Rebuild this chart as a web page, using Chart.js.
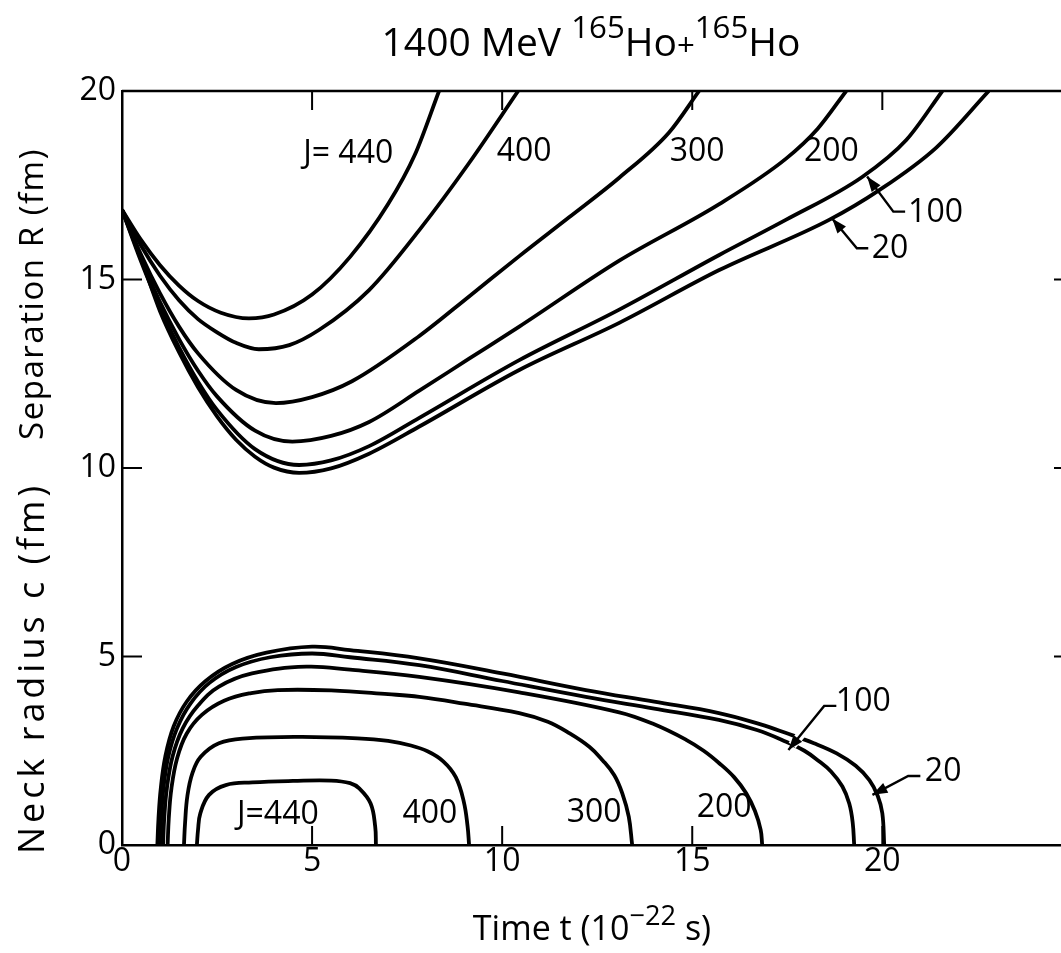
<!DOCTYPE html>
<html>
<head>
<meta charset="utf-8">
<script src="https://cdn.jsdelivr.net/npm/chart.js@4"></script>
<style>
  html, body { margin: 0; padding: 0; background: #fff; }
  #wrap { width: 1061px; height: 953px; }
</style>
</head>
<body>
<div id="wrap"><canvas id="hoChart" width="1061" height="953"></canvas></div>
<script>
// Tick labels
const timeTicks = [0, 5, 10, 15, 20];
const valueTicks = [0, 5, 10, 15, 20];

// Separation R(t) for each angular momentum J (time in 10^-22 s, R in fm)
const sepT440 = [0, 0.5, 1, 1.5, 2, 2.6, 3.34, 4, 5, 6, 7, 7.7, 8.34];
const sepR440 = [16.85, 16.05, 15.38, 14.84, 14.43, 14.12, 13.97, 14.07, 14.6, 15.6, 17.0, 18.3, 20];
const sepT400 = [0, 0.5, 1, 1.5, 2, 2.5, 3, 3.6, 4.4, 5.18, 6.5, 7.82, 9.13, 10.42];
const sepR400 = [16.85, 15.9, 15.1, 14.45, 13.95, 13.6, 13.32, 13.15, 13.26, 13.66, 14.72, 16.31, 18.09, 20];
const sepT300 = [0, 0.5, 1, 1.5, 2, 3, 4.05, 5, 6.05, 7.82, 9.13, 10.45, 11.76, 13.08, 14.39, 15.18];
const sepR300 = [16.85, 15.66, 14.63, 13.75, 13.04, 12.07, 11.72, 11.88, 12.3, 13.5, 14.55, 15.62, 16.65, 17.7, 18.9, 20];
const sepT200 = [0, 0.5, 1, 1.5, 2, 2.5, 3.5, 4.48, 5.5, 6.5, 7.82, 9.13, 10.45, 13.08, 15.71, 17.46, 18.3, 19.05];
const sepR200 = [16.85, 15.55, 14.4, 13.42, 12.58, 11.9, 10.99, 10.7, 10.85, 11.22, 12.05, 12.9, 13.75, 15.5, 17.0, 18.2, 19.0, 20];
const sepT100 = [0, 0.5, 1, 1.5, 2, 2.5, 3.5, 4.66, 5.5, 6.5, 7.82, 10.45, 13.08, 15.71, 17.46, 19.47, 20.63, 21.58];
const sepR100 = [16.85, 15.48, 14.26, 13.2, 12.29, 11.54, 10.5, 10.08, 10.2, 10.58, 11.33, 12.86, 14.2, 15.65, 16.58, 17.72, 18.7, 20];
const sepT20 = [0, 0.5, 1, 1.5, 2, 2.5, 3, 3.5, 4, 4.66, 5.5, 6.5, 7.82, 10.45, 13.08, 15.71, 18.6, 19.92, 21.42, 22.8];
const sepR20 = [16.85, 15.56, 14.16, 13.07, 12.14, 11.37, 10.75, 10.3, 10.01, 9.87, 9.99, 10.38, 11.1, 12.6, 13.85, 15.25, 16.58, 17.37, 18.5, 20];

// Neck radius c(t) for each J (fm)
const neckT440 = [1.97, 2.0, 2.06, 2.29, 2.73, 3.43, 4.5, 5.5, 6.0, 6.24, 6.54, 6.66, 6.68];
const neckC440 = [0, 0.4, 0.84, 1.33, 1.59, 1.66, 1.7, 1.71, 1.64, 1.5, 1.1, 0.49, 0];
const neckT400 = [1.63, 1.66, 1.72, 1.85, 2.07, 2.55, 3.26, 4.74, 6.2, 7.0, 7.6, 8.05, 8.45, 8.78, 8.99, 9.09, 9.13];
const neckC400 = [0, 0.6, 1.3, 1.9, 2.34, 2.7, 2.83, 2.87, 2.83, 2.76, 2.64, 2.48, 2.22, 1.8, 1.15, 0.5, 0];
const neckT300 = [1.2, 1.23, 1.3, 1.45, 1.7, 2.1, 2.7, 3.4, 4.1, 5.5, 7.0, 7.82, 9.0, 10.45, 11.2, 11.76, 12.3, 12.64, 12.95, 13.16, 13.33, 13.42];
const neckC300 = [0, 0.7, 1.5, 2.3, 2.95, 3.45, 3.83, 4.03, 4.11, 4.1, 4.0, 3.93, 3.75, 3.5, 3.27, 2.97, 2.6, 2.25, 1.85, 1.37, 0.75, 0];
const neckT200 = [1.08, 1.11, 1.18, 1.33, 1.6, 2.0, 2.55, 3.42, 4.85, 6.0, 7.82, 10.45, 13.08, 14.0, 14.84, 15.3, 15.71, 16.1, 16.42, 16.65, 16.8, 16.84];
const neckC200 = [0, 0.7, 1.5, 2.35, 3.1, 3.7, 4.2, 4.55, 4.73, 4.65, 4.46, 4.05, 3.52, 3.2, 2.79, 2.5, 2.17, 1.8, 1.37, 0.9, 0.4, 0];
const neckT100 = [1.0, 1.03, 1.09, 1.22, 1.45, 1.8, 2.3, 3.0, 3.9, 5.0, 6.0, 7.82, 10.0, 12.2, 14.0, 15.7, 16.7, 17.47, 17.95, 18.3, 18.65, 18.95, 19.13, 19.22, 19.26];
const neckC100 = [0, 0.7, 1.5, 2.35, 3.1, 3.75, 4.3, 4.72, 4.98, 5.08, 4.98, 4.77, 4.35, 3.93, 3.62, 3.32, 3.05, 2.74, 2.5, 2.25, 1.95, 1.55, 1.1, 0.6, 0];
const neckT20 = [0.93, 0.96, 1.02, 1.14, 1.36, 1.7, 2.2, 2.9, 3.8, 5.0, 6.0, 7.82, 10.0, 12.2, 14.0, 15.7, 16.8, 17.47, 18.2, 18.8, 19.3, 19.66, 19.88, 20.0, 20.05];
const neckC20 = [0, 0.7, 1.5, 2.35, 3.15, 3.8, 4.35, 4.8, 5.1, 5.26, 5.17, 4.95, 4.55, 4.11, 3.8, 3.5, 3.2, 2.97, 2.7, 2.43, 2.1, 1.72, 1.3, 0.84, 0];

const FONT = "'Open Sans', 'DejaVu Sans', sans-serif";

// curve labels, placed in data units
const curveLabels = [
    { text: "J= 440", x: 5.95, y: 18.33 },
    { text: "400", x: 10.58, y: 18.38 },
    { text: "300", x: 15.13, y: 18.38 },
    { text: "200", x: 18.66, y: 18.38 },
    { text: "J=440", x: 4.1, y: 0.8 },
    { text: "400", x: 8.1, y: 0.82 },
    { text: "300", x: 12.42, y: 0.85 },
    { text: "200", x: 15.84, y: 0.98 }
];

// labels with leader arrows: text pos, end of leader, elbow, arrow head
const arrowLabels = [
    { text: "100", x: 21.4, y: 16.76, end: [20.6, 16.8], elbow: [20.29, 16.8], head: [19.6, 17.73] },
    { text: "20", x: 20.2, y: 15.8, end: [19.63, 15.83], elbow: [19.33, 15.83], head: [18.68, 16.62] },
    { text: "100", x: 19.5, y: 3.79, end: [18.79, 3.69], elbow: [18.47, 3.69], head: [17.53, 2.52], gap: true },
    { text: "20", x: 21.6, y: 1.94, end: [21.0, 1.83], elbow: [20.68, 1.83], head: [19.74, 1.33] }
];

function toPoints(ts, vs) {
    return ts.map((t, i) => ({ x: t, y: vs[i] }));
}

// separation curves: monotone cubic; neck curves: bezier tension (steep ends)
function curve(ts, vs, smooth) {
    const ds = {
        data: toPoints(ts, vs),
        borderColor: "#000",
        borderWidth: 3.8,
        pointRadius: 0,
        fill: false
    };
    if (smooth === "monotone") ds.cubicInterpolationMode = "monotone";
    else ds.tension = 0.4;
    return ds;
}

// draw text with superscript parts, centred on cx
function drawRich(ctx, parts, cx, baseline, size) {
    let total = 0;
    parts.forEach(p => {
        ctx.font = `${p.sup || p.small ? size * 0.8 : size}px ${FONT}`;
        total += ctx.measureText(p.t).width;
    });
    let x = cx - total / 2;
    ctx.textAlign = "left";
    ctx.textBaseline = "alphabetic";
    parts.forEach(p => {
        ctx.font = `${p.sup || p.small ? size * 0.8 : size}px ${FONT}`;
        const yOff = p.sup ? -size * 0.45 : 0;
        ctx.fillText(p.t, x, baseline + yOff);
        x += ctx.measureText(p.t).width;
    });
}

const decorPlugin = {
    id: "decor",
    afterDraw(chart) {
        const ctx = chart.ctx;
        const xs = chart.scales.x, ys = chart.scales.y;
        const a = chart.chartArea;
        ctx.save();
        ctx.strokeStyle = "#000";
        ctx.fillStyle = "#000";

        // top frame line
        ctx.lineWidth = 2.5;
        ctx.beginPath();
        ctx.moveTo(a.left, a.top);
        ctx.lineTo(a.right, a.top);
        ctx.stroke();

        // inward ticks
        ctx.lineWidth = 2;
        ctx.beginPath();
        timeTicks.slice(1).forEach(v => {
            const px = xs.getPixelForValue(v);
            ctx.moveTo(px, a.bottom); ctx.lineTo(px, a.bottom - 19);
            ctx.moveTo(px, a.top); ctx.lineTo(px, a.top + 19);
        });
        valueTicks.slice(1, -1).forEach(v => {
            const py = ys.getPixelForValue(v);
            ctx.moveTo(a.left, py); ctx.lineTo(a.left + 20, py);
            ctx.moveTo(a.right, py); ctx.lineTo(a.right - 7, py);
        });
        ctx.stroke();

        // curve labels
        ctx.font = `32px ${FONT}`;
        ctx.textAlign = "center";
        ctx.textBaseline = "middle";
        curveLabels.forEach(l => {
            ctx.fillText(l.text, xs.getPixelForValue(l.x), ys.getPixelForValue(l.y));
        });

        // arrow labels
        arrowLabels.forEach(l => {
            ctx.textAlign = "center";
            ctx.textBaseline = "middle";
            ctx.font = `32px ${FONT}`;
            ctx.fillText(l.text, xs.getPixelForValue(l.x), ys.getPixelForValue(l.y));
            const e = [xs.getPixelForValue(l.end[0]), ys.getPixelForValue(l.end[1])];
            const b = [xs.getPixelForValue(l.elbow[0]), ys.getPixelForValue(l.elbow[1])];
            const h = [xs.getPixelForValue(l.head[0]), ys.getPixelForValue(l.head[1])];
            const ang = Math.atan2(h[1] - b[1], h[0] - b[0]);
            if (l.gap) {
                ctx.strokeStyle = "#fff";
                ctx.lineWidth = 9;
                ctx.beginPath();
                ctx.moveTo(b[0], b[1]);
                ctx.lineTo(h[0] - 6 * Math.cos(ang), h[1] - 6 * Math.sin(ang));
                ctx.stroke();
                ctx.strokeStyle = "#000";
            }
            ctx.lineWidth = 2.4;
            ctx.beginPath();
            ctx.moveTo(e[0], e[1]);
            ctx.lineTo(b[0], b[1]);
            ctx.lineTo(h[0], h[1]);
            ctx.stroke();
            const len = 15, wid = 5.5;
            ctx.beginPath();
            ctx.moveTo(h[0], h[1]);
            ctx.lineTo(h[0] - len * Math.cos(ang) + wid * Math.sin(ang), h[1] - len * Math.sin(ang) - wid * Math.cos(ang));
            ctx.lineTo(h[0] - len * Math.cos(ang) - wid * Math.sin(ang), h[1] - len * Math.sin(ang) + wid * Math.cos(ang));
            ctx.closePath();
            ctx.fill();
        });

        // main title
        drawRich(ctx, [
            { t: "1400 MeV " },
            { t: "165", sup: true },
            { t: "Ho" },
            { t: "+", small: true },
            { t: "165", sup: true },
            { t: "Ho" }
        ], 591, 56, 39);

        // x axis title
        drawRich(ctx, [
            { t: "Time t (10" },
            { t: "\u221222", sup: true },
            { t: " s)" }
        ], 592, 940, 34);

        // y axis titles, spread to the reference lengths
        ctx.textAlign = "center";
        ctx.textBaseline = "middle";
        [["Separation R (fm)", 294, 292, 33], ["Neck radius c (fm)", 668, 372, 36]].forEach(([txt, cy, target, size]) => {
            ctx.font = `${size}px ${FONT}`;
            ctx.letterSpacing = "0px";
            const w = ctx.measureText(txt).width;
            ctx.letterSpacing = Math.max(0, (target - w) / txt.length).toFixed(2) + "px";
            ctx.save();
            ctx.translate(34, cy);
            ctx.rotate(-Math.PI / 2);
            ctx.fillText(txt, 0, 0);
            ctx.restore();
        });
        ctx.letterSpacing = "0px";
        ctx.restore();
    }
};

new Chart(document.getElementById("hoChart"), {
    type: "line",
    data: {
        datasets: [
            curve(sepT440, sepR440, "monotone"), curve(sepT400, sepR400, "monotone"),
            curve(sepT300, sepR300, "monotone"), curve(sepT200, sepR200, "monotone"),
            curve(sepT100, sepR100, "monotone"), curve(sepT20, sepR20, "monotone"),
            curve(neckT440, neckC440), curve(neckT400, neckC400), curve(neckT300, neckC300),
            curve(neckT200, neckC200), curve(neckT100, neckC100), curve(neckT20, neckC20)
        ]
    },
    options: {
        responsive: false,
        animation: false,
        events: [],
        layout: { padding: { top: 91, right: 0, left: 0, bottom: 0 } },
        scales: {
            x: {
                type: "linear",
                min: 0,
                max: 24.7,
                grid: { display: false, drawTicks: false },
                border: { display: true, color: "#000", width: 2.5 },
                ticks: { color: "#000", font: { family: FONT, size: 32 }, padding: -2, maxRotation: 0 },
                afterBuildTicks: s => { s.ticks = timeTicks.map(v => ({ value: v })); },
                afterFit: s => { s.height = 108; }
            },
            y: {
                type: "linear",
                min: 0,
                max: 20,
                grid: { display: false, drawTicks: false },
                border: { display: true, color: "#000", width: 2.5 },
                ticks: { color: "#000", font: { family: FONT, size: 32 }, padding: 6 },
                afterBuildTicks: s => { s.ticks = valueTicks.map(v => ({ value: v })); },
                afterFit: s => { s.width = 122; }
            }
        },
        plugins: {
            legend: { display: false },
            tooltip: { enabled: false },
            title: { display: false }
        }
    },
    plugins: [decorPlugin]
});
</script>
</body>
</html>
